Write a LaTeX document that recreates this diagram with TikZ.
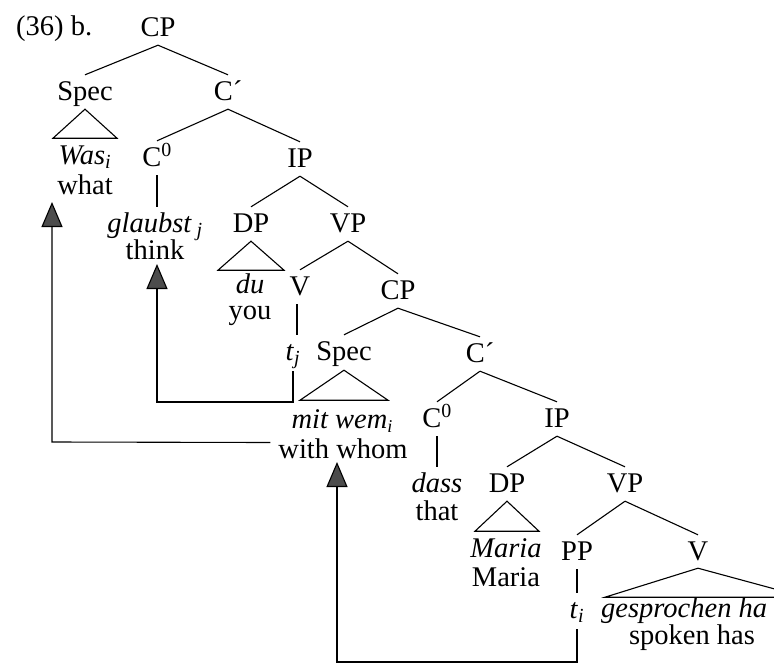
\documentclass[tikz,border=0pt]{standalone}
\usepackage{fontspec}
\setmainfont{Liberation Serif}
\usetikzlibrary{arrows.meta}
\begin{document}
\begin{tikzpicture}[x=1pt,y=-1pt,
  every node/.style={font=\fontsize{28.5}{30}\selectfont},
  lab/.style={anchor=base, text height=19pt, text depth=2pt, inner sep=0pt},
  ln/.style={line width=1.1pt, line join=miter},
  mv/.style={line width=1.1pt, -{Triangle[width=21pt,length=25pt,fill=black!70]}},
]
\useasboundingbox (0,0) rectangle (774,664);
\clip (0,0) rectangle (774,664);

% labels
\node[lab, anchor=base west] (lbl) at (16,35) {(36) b.};
\node[lab] (CP) at (158,36) {CP};
\node[lab] (Spec) at (85,100) {Spec};
\node[lab] (Cb) at (228,100) {C´};
\node[lab] (was) at (85,164) {\textit{Was}\textsubscript{\itshape i}};
\node[lab] (what) at (85,194) {what};
\node[lab] (C0) at (157,166) {C\textsuperscript{0}};
\node[lab] (IP) at (300,167) {IP};
\node[lab] (glaubst) at (155,232) {\textit{glaubst}\,\textsubscript{\itshape j}};
\node[lab] (think) at (155,259) {think};
\node[lab] (DP) at (251,232) {DP};
\node[lab] (VP) at (348,232) {VP};
\node[lab] (du) at (250,293) {\textit{du}};
\node[lab] (you) at (250,319) {you};
\node[lab] (V) at (300,295) {V};
\node[lab] (CPb) at (398,299) {CP};
\node[lab] (tj) at (293,360) {\textit{t}\textsubscript{\itshape j}};
\node[lab] (Specb) at (344,360) {Spec};
\node[lab] (Cbb) at (480,362) {C´};
\node[lab] (mitwem) at (342,428) {\textit{mit wem}\raisebox{-4pt}{\fontsize{18}{18}\selectfont\itshape i}};
\node[lab] (whom) at (343,458) {with whom};
\node[lab] (C0b) at (437,427) {C\textsuperscript{0}};
\node[lab] (IPb) at (557,427) {IP};
\node[lab] (dass) at (437,492) {\textit{dass}};
\node[lab] (that) at (437,520) {that};
\node[lab] (DPb) at (507,492) {DP};
\node[lab] (VPb) at (625,492) {VP};
\node[lab] (maria) at (506,557) {\textit{Maria}};
\node[lab] (mariab) at (506,586) {Maria};
\node[lab] (PP) at (577,560) {PP};
\node[lab] (Vb) at (698,560) {V};
\node[lab] (ti) at (577,618) {\textit{t}\textsubscript{\itshape i}};
\node[lab, anchor=base west] (gesp) at (601,617) {\textit{gesprochen ha}};
\node[lab] (spoken) at (692,644) {spoken has};

% branches
\foreach \p/\c in {CP/Spec, CP/Cb, Cb/C0, Cb/IP, IP/DP, IP/VP, VP/V, VP/CPb,
                   CPb/Specb, CPb/Cbb, Cbb/C0b, Cbb/IPb, IPb/DPb, IPb/VPb, VPb/PP, VPb/Vb}
  \draw[ln] ([yshift=-7pt]\p.south) -- ([yshift=6pt]\c.north);

% unary lines
\draw[ln] ([yshift=-7pt]C0.south) -- ([yshift=6pt]C0.south |- glaubst.north);
\draw[ln] ([xshift=-3pt,yshift=-7pt]V.south) -- ([xshift=-3pt,yshift=6pt]V.south |- tj.north);
\draw[ln] ([yshift=-7pt]C0b.south) -- ([yshift=6pt]C0b.south |- dass.north);
\draw[ln] ([yshift=-7pt]PP.south) -- ([yshift=6pt]PP.south |- ti.north);

% triangles
\draw[ln] ([yshift=-7pt]Spec.south) -- ++(-32,29) -- ++(64,0) -- cycle;
\draw[ln] ([yshift=-7pt]DP.south) -- ++(-33,29) -- ++(66,0) -- cycle;
\draw[ln] ([yshift=-8pt]Specb.south) -- ++(-44,30) -- ++(88,0) -- cycle;
\draw[ln] ([yshift=-7pt]DPb.south) -- ++(-32,30) -- ++(64,0) -- cycle;
\draw[ln] ([yshift=-6pt]Vb.south) -- ++(-93,29) -- ++(200,0) -- cycle;

% movement arrows
\coordinate (iA) at (52,442);
\coordinate (iAtip) at (52,202);
\draw[mv] ([xshift=-8pt,yshift=7pt]whom.west) -- (iA) -- (iAtip);

\coordinate (jA) at (293,402);
\coordinate (jB) at (157,402);
\coordinate (jtip) at (157,264);
\draw[mv] ([yshift=-9pt]tj.south) -- (jA) -- (jB) -- (jtip);

\coordinate (kA) at (577,662);
\coordinate (kB) at (337,662);
\coordinate (ktip) at (337,462);
\draw[mv] ([yshift=-9pt]ti.south) -- (kA) -- (kB) -- (ktip);
\end{tikzpicture}
\end{document}
